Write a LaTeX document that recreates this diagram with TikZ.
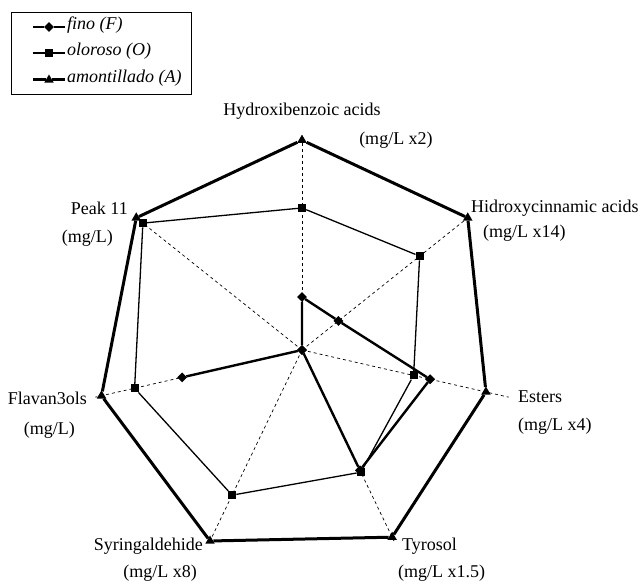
\documentclass[tikz,border=0pt]{standalone}
\usepackage{fontspec}
\setmainfont{Liberation Serif}
\usepackage{tikz}
\usetikzlibrary{shapes.geometric}
\tikzstyle{NodeF}=[diamond,fill=black,inner sep=0pt,minimum size=10pt]
\tikzstyle{NodeO}=[rectangle,fill=black,inner sep=0pt,minimum size=8pt]
\tikzstyle{NodeA}=[regular polygon,regular polygon sides=3,fill=black,inner sep=0pt,minimum size=11pt]
\tikzstyle{EdgeF}=[black,line width=2.4pt,line join=round]
\tikzstyle{EdgeO}=[black,line width=1.3pt,line join=round]
\tikzstyle{EdgeA}=[black,line width=3pt,line join=round]
\tikzstyle{AxisLine}=[black,line width=.7pt,dash pattern=on 3pt off 3pt]
\tikzstyle{AxisLabel}=[inner sep=0pt,font=\fontsize{18}{21}\selectfont,text height=1.4ex,text depth=.3ex]
\tikzstyle{LegendText}=[AxisLabel,font=\fontsize{18}{21}\selectfont\itshape]

\begin{document}
\begin{tikzpicture}[x=1pt,y=1pt]
        \useasboundingbox(-302,-234)rectangle(339,350);
        \coordinate(c)at(0,0);
        % axes
        \foreach \k in {1,...,7}{
            \coordinate(ax\k)at({90-(\k-1)*360/7}:212);
            \draw[AxisLine](c)--(ax\k);
        }
        % data points
        \foreach \v [count=\k] in {.67,.71,.54,.64,.76,.81,.96}
            \node[NodeO](o\k)at({90-(\k-1)*360/7}:\v*212){};
        \foreach \v [count=\k] in {.25,.22,.62,.63,0,.58,0}
            \node[NodeF](f\k)at({90-(\k-1)*360/7}:\v*212){};
        \foreach \v [count=\k] in {.99,1,.89,.98,1,.97,1}
            \node[NodeA](a\k)at({90-(\k-1)*360/7}:\v*212){};
        \draw[EdgeO](o1)--(o2)--(o3)--(o4)--(o5)--(o6)--(o7)--(o1);
        \draw[EdgeF](f1)--(f2)--(f3)--(f4)--(f5)--(f6)--(f7)--(f1);
        \draw[EdgeA](a1)--(a2)--(a3)--(a4)--(a5)--(a6)--(a7)--(a1);
        % axis labels
        \node[AxisLabel](hb)at(0,237){Hydroxibenzoic acids};
        \node[AxisLabel](hbu)at(94,208){(mg/L x2)};
        \node[AxisLabel,anchor=west](hc)at(169,140){Hidroxycinnamic acids};
        \node[AxisLabel,anchor=west](hcu)at(181,115){(mg/L x14)};
        \node[AxisLabel,anchor=west](es)at(216,-50){Esters};
        \node[AxisLabel,anchor=west](esu)at(216,-78){(mg/L x4)};
        \node[AxisLabel,anchor=west](ty)at(100,-198){Tyrosol};
        \node[AxisLabel,anchor=west](tyu)at(96,-225){(mg/L x1.5)};
        \node[AxisLabel,anchor=east](sy)at(-99,-198){Syringaldehide};
        \node[AxisLabel,anchor=east](syu)at(-105,-225){(mg/L x8)};
        \node[AxisLabel,anchor=east](fl)at(-215,-52){Flavan3ols};
        \node[AxisLabel,anchor=east](flu)at(-227,-82){(mg/L)};
        \node[AxisLabel,anchor=east](pk)at(-174,138){Peak 11};
        \node[AxisLabel,anchor=east](pku)at(-189,110){(mg/L)};
        % legend
        \draw[line width=.7pt](-291,256)rectangle(-111,338);
        \coordinate(lgF1)at(-269,323);\coordinate(lgF2)at(-237,323);
        \coordinate(lgO1)at(-269,297);\coordinate(lgO2)at(-237,297);
        \coordinate(lgA1)at(-269,270);\coordinate(lgA2)at(-237,270);
        \node[NodeF](lgFm)at(-253,323){};
        \node[NodeO](lgOm)at(-253,297){};
        \node[NodeA](lgAm)at(-253,270){};
        \draw[EdgeF](lgF1)--(lgFm)--(lgF2);
        \draw[EdgeO](lgO1)--(lgOm)--(lgO2);
        \draw[EdgeA](lgA1)--(lgAm)--(lgA2);
        \node[LegendText,anchor=west](lgFt)at(-235,323){fino (F)};
        \node[LegendText,anchor=west](lgOt)at(-235,297){oloroso (O)};
        \node[LegendText,anchor=west](lgAt)at(-235,270){amontillado (A)};
    \end{tikzpicture}
\end{document}
